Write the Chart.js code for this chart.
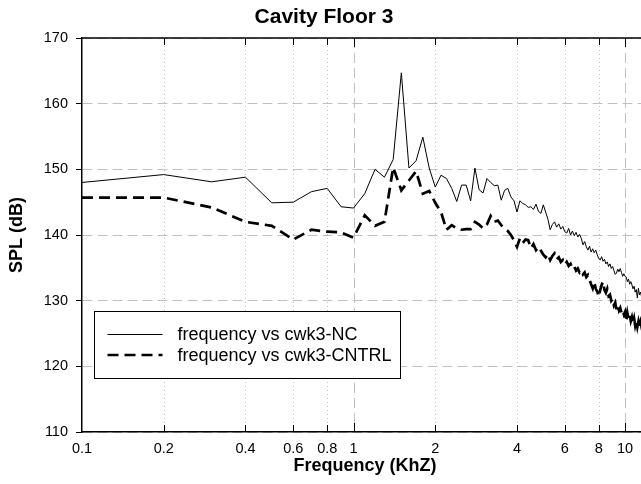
<!DOCTYPE html>
<html>
<head>
<meta charset="UTF-8">
<title>Cavity Floor 3</title>
<script src="https://cdn.jsdelivr.net/npm/chart.js"></script>
<style>
  html, body { margin: 0; padding: 0; background: #fff; overflow: hidden; }
  canvas { display: block; }
</style>
</head>
<body>
<canvas id="chart" width="648" height="484"></canvas>
<script>
// frequency in KhZ, 0.1 steps
const freq = [
  0.1, 0.2, 0.3, 0.4, 0.5, 0.6, 0.7, 0.8, 0.9, 1.0,
  1.1, 1.2, 1.3, 1.4, 1.5, 1.6, 1.7, 1.8, 1.9, 2.0,
  2.1, 2.2, 2.3, 2.4, 2.5, 2.6, 2.7, 2.8, 2.9, 3.0,
  3.1, 3.2, 3.3, 3.4, 3.5, 3.6, 3.7, 3.8, 3.9, 4.0,
  4.1, 4.2, 4.3, 4.4, 4.5, 4.6, 4.7, 4.8, 4.9, 5.0,
  5.1, 5.2, 5.3, 5.4, 5.5, 5.6, 5.7, 5.8, 5.9, 6.0,
  6.1, 6.2, 6.3, 6.4, 6.5, 6.6, 6.7, 6.8, 6.9, 7.0,
  7.1, 7.2, 7.3, 7.4, 7.5, 7.6, 7.7, 7.8, 7.9, 8.0,
  8.1, 8.2, 8.3, 8.4, 8.5, 8.6, 8.7, 8.8, 8.9, 9.0,
  9.1, 9.2, 9.3, 9.4, 9.5, 9.6, 9.7, 9.8, 9.9, 10.0,
  10.1, 10.2, 10.3, 10.4, 10.5, 10.6, 10.7, 10.8, 10.9, 11.0,
  11.1, 11.2, 11.3, 11.4, 11.5, 11.6
];

// SPL (dB), cwk3-NC
const splNC = [
  148.0, 149.2, 148.1, 148.8, 144.9, 145.0, 146.6, 147.1, 144.3, 144.1,
  146.3, 150.0, 148.8, 151.5, 164.7, 150.2, 151.3, 154.9, 150.2, 147.3,
  149.1, 148.6, 147.1, 145.1, 147.6, 147.6, 145.2, 150.2, 146.9, 146.4,
  148.6, 148.0, 147.5, 147.6, 145.3, 146.8, 147.1, 145.8, 145.2, 143.5,
  145.2, 144.8, 144.6, 144.2, 144.3, 143.9, 144.7, 143.6, 143.3, 144.6,
  143.5, 142.4, 140.8, 141.6, 142.0, 141.2, 141.7, 140.9, 141.3, 140.5,
  140.3, 141.0, 140.0, 140.6, 139.9, 140.4, 139.7, 140.1, 139.5, 138.5,
  139.0, 138.2, 137.7, 138.3, 137.4, 137.9, 137.3, 137.7, 137.0, 136.4,
  136.2, 136.7, 136.0, 136.3, 135.6, 135.9, 135.2, 135.6, 134.9, 135.2,
  134.6, 134.0, 134.2, 134.8, 134.4, 134.9, 134.3, 133.7, 134.1, 133.7,
  133.6, 132.9, 133.3, 132.5, 132.9, 132.4, 131.8, 132.2, 131.3, 131.7,
  130.4, 131.9, 130.9, 131.3, 130.6, 131.0
];

// SPL (dB), cwk3-CNTRL
const splCNTRL = [
  145.7, 145.7, 144.2, 142.0, 141.4, 139.3, 140.8, 140.5, 140.4, 139.6,
  143.0, 141.4, 142.0, 150.3, 146.8, 148.3, 149.7, 146.3, 146.7, 144.9,
  143.5, 140.8, 141.5, 141.0, 140.8, 140.9, 140.9, 142.0, 141.6, 141.0,
  141.6, 142.9, 142.0, 142.2, 141.5, 141.0, 140.6, 140.0, 139.2, 138.2,
  139.5, 138.8, 139.3, 139.2, 138.0, 138.6, 137.7, 138.2, 137.6, 137.0,
  136.6, 137.1, 136.2, 136.8, 137.2, 136.3, 136.6, 135.9, 136.2, 135.5,
  135.9, 135.3, 135.6, 134.9, 135.2, 134.6, 134.9, 134.3, 134.6, 134.0,
  134.3, 133.6, 133.9, 133.2, 132.5, 131.9, 132.9, 131.8, 131.4, 130.6,
  131.6, 132.4, 132.9, 131.6, 131.2, 131.8, 130.7, 130.9, 130.0, 130.3,
  129.3, 129.7, 128.6, 129.2, 128.5, 128.9, 128.2, 128.6, 127.9, 128.3,
  126.8, 128.1, 127.2, 127.8, 126.9, 127.5, 126.6, 127.3, 126.2, 126.9,
  126.0, 126.8, 125.9, 126.7, 126.0, 126.5
];

const xTicks = [0.1, 0.2, 0.4, 0.6, 0.8, 1, 2, 4, 6, 8, 10];
const xDecades = [1, 10];
const yTicks = [110, 120, 130, 140, 150, 160, 170];

const FONT = "'Liberation Sans', Arial, Helvetica, sans-serif";
const GRID = '#c0c0c0';

// vertical grid, top border, inward ticks and the boxed legend
const frame = {
  id: 'frame',
  beforeDatasetsDraw(chart) {
    const { ctx, chartArea: a, scales: { x } } = chart;
    ctx.save();
    ctx.strokeStyle = GRID;
    ctx.lineWidth = 1;
    xTicks.forEach(v => {
      if (v === xTicks[0]) return;
      const px = Math.round(x.getPixelForValue(v)) + 0.5;
      ctx.setLineDash(xDecades.includes(v) ? [10, 5] : [1, 3]);
      ctx.beginPath();
      ctx.moveTo(px, a.top);
      ctx.lineTo(px, a.bottom);
      ctx.stroke();
    });
    ctx.restore();
  },
  afterDatasetsDraw(chart) {
    const { ctx, chartArea: a, scales: { x } } = chart;
    ctx.save();
    ctx.strokeStyle = '#000';
    ctx.lineWidth = 1.5;
    ctx.beginPath();
    ctx.moveTo(a.left, a.top);
    ctx.lineTo(a.right, a.top);
    ctx.stroke();

    ctx.lineWidth = 1;
    xTicks.forEach(v => {
      if (v === xTicks[0]) return;
      const px = Math.round(x.getPixelForValue(v)) + 0.5;
      const len = xDecades.includes(v) ? 9 : 7;
      ctx.beginPath();
      ctx.moveTo(px, a.bottom);
      ctx.lineTo(px, a.bottom - len);
      ctx.moveTo(px, a.top);
      ctx.lineTo(px, a.top + len);
      ctx.stroke();
    });

    // legend
    const bx = a.left + 12.5, by = a.top + 273.5, bw = 306, bh = 67;
    ctx.fillStyle = '#fff';
    ctx.fillRect(bx, by, bw, bh);
    ctx.strokeStyle = '#000';
    ctx.lineWidth = 1;
    ctx.strokeRect(bx, by, bw, bh);

    const ds = chart.data.datasets;
    const rows = [by + 23, by + 43.5];
    ds.forEach((d, i) => {
      ctx.strokeStyle = '#000';
      ctx.lineWidth = d.borderWidth;
      ctx.setLineDash(d.borderDash || []);
      ctx.beginPath();
      ctx.moveTo(bx + 13, rows[i]);
      ctx.lineTo(bx + 68, rows[i]);
      ctx.stroke();
      ctx.setLineDash([]);
      ctx.fillStyle = '#000';
      ctx.font = '18px ' + FONT;
      ctx.textBaseline = 'middle';
      ctx.fillText(d.label, bx + 83, rows[i] + 1);
    });
    ctx.restore();
  }
};

new Chart(document.getElementById('chart'), {
  type: 'line',
  data: {
    datasets: [
      {
        label: 'frequency vs cwk3-NC',
        data: freq.map((f, i) => ({ x: f, y: splNC[i] })),
        borderColor: '#000',
        borderWidth: 1,
        pointRadius: 0,
        tension: 0
      },
      {
        label: 'frequency vs cwk3-CNTRL',
        data: freq.map((f, i) => ({ x: f, y: splCNTRL[i] })),
        borderColor: '#000',
        borderWidth: 2.7,
        borderDash: [11, 6],
        pointRadius: 0,
        tension: 0
      }
    ]
  },
  options: {
    responsive: false,
    animation: false,
    devicePixelRatio: 1,
    layout: { padding: 0 },
    plugins: {
      legend: { display: false },
      tooltip: { enabled: false },
      title: {
        display: true,
        text: 'Cavity Floor 3',
        color: '#000',
        font: { family: FONT, size: 21, weight: 'bold' },
        padding: { top: 5, bottom: 7.8 }
      }
    },
    scales: {
      x: {
        type: 'logarithmic',
        min: 0.1,
        max: 12.15,
        afterBuildTicks: s => { s.ticks = xTicks.map(v => ({ value: v })); },
        afterFit: s => { s.height = 52; },
        ticks: {
          autoSkip: false,
          maxRotation: 0,
          color: '#000',
          padding: 8,
          font: { family: FONT, size: 14.5 },
          callback: v => String(v)
        },
        grid: { drawOnChartArea: false, drawTicks: false },
        border: { color: '#000', width: 1.5 },
        title: {
          display: true,
          text: 'Frequency (KhZ)',
          color: '#000',
          font: { family: FONT, size: 18, weight: 'bold' },
          padding: { top: 0, bottom: 7 }
        }
      },
      y: {
        min: 110,
        max: 170,
        afterBuildTicks: s => { s.ticks = yTicks.map(v => ({ value: v })); },
        afterFit: s => { s.width = 82; },
        ticks: {
          color: '#000',
          padding: 8,
          font: { family: FONT, size: 14.5 }
        },
        grid: {
          color: GRID,
          lineWidth: 1,
          tickColor: '#000',
          tickLength: 6,
          tickBorderDash: []
        },
        border: { color: '#000', width: 1.5, dash: [10, 5] },
        title: {
          display: true,
          text: 'SPL (dB)',
          color: '#000',
          font: { family: FONT, size: 18, weight: 'bold' },
          padding: { top: 6, bottom: 0 }
        }
      }
    }
  },
  plugins: [frame]
});
</script>
</body>
</html>
